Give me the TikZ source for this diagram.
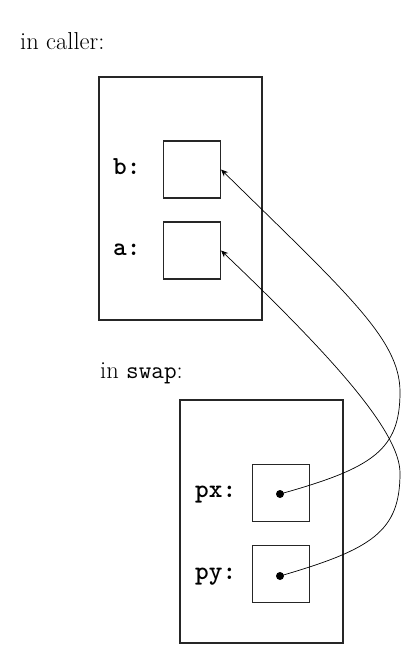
\documentclass[tikz,border=0pt]{standalone}
\usetikzlibrary{arrows.meta}
\begin{document}
\begin{tikzpicture}[x=1pt,y=-1pt,
  frame/.style={draw=black!85,line width=1.1pt},
  cell/.style={draw=black!85,line width=1.1pt,minimum width=57pt,minimum height=57pt,inner sep=0pt},
  varlbl/.style={anchor=base west,inner sep=0pt,font=\fontsize{26}{30}\selectfont\ttfamily\bfseries},
  title/.style={anchor=base west,inner sep=0pt,font=\fontsize{24.5}{29}\selectfont},
  dot/.style={circle,fill=black,inner sep=0pt,minimum size=8pt},
  ptr/.style={line width=0.7pt,-{Stealth[length=7pt,width=6pt]}}]
\useasboundingbox (0,0) rectangle (403,655);
\node[title] (t1) at (20,50) {in caller:};
\node[frame,minimum width=163pt,minimum height=243pt,inner sep=0pt] (caller) at (180.5,198.5) {};
\node[cell] (b) at (192,169.5) {};
\node[cell] (a) at (192,250.5) {};
\node[varlbl] (lb) at (113,175) {b:};
\node[varlbl] (la) at (113,255) {a:};
\node[title] (t2) at (100,378) {in \texttt{swap}:};
\node[frame,minimum width=163pt,minimum height=243pt,inner sep=0pt] (swap) at (261.5,521.5) {};
\node[cell] (px) at (281,493) {};
\node[cell] (py) at (281,574) {};
\node[varlbl] (lpx) at (195,497) {px:};
\node[varlbl] (lpy) at (195,579) {py:};
\node[dot] (pxdot) at (280,494) {};
\node[dot] (pydot) at (280,576) {};
\coordinate (bturn) at (400,392);
\coordinate (aturn) at (400,473);
\draw[ptr] (pxdot.center) .. controls (373,468) and (400,450) .. (bturn)
  .. controls (400,340) and (349,295) .. (b.east);
\draw[ptr] (pydot.center) .. controls (373,549) and (400,531) .. (aturn)
  .. controls (400,433) and (336,360) .. (a.east);
\end{tikzpicture}
\end{document}
